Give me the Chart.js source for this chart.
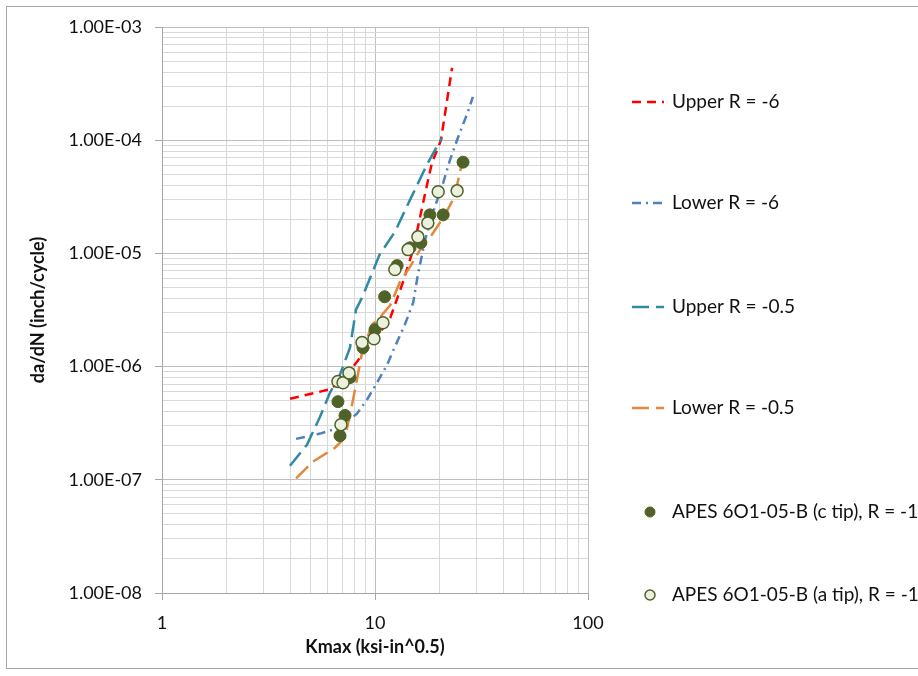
<!DOCTYPE html>
<html lang="en">
<head>
    <meta charset="UTF-8">
    <title>da/dN vs Kmax</title>
    <script src="https://cdn.jsdelivr.net/npm/chart.js@4.4.1/dist/chart.umd.min.js"></script>
    <style>
        html, body { margin: 0; padding: 0; background: #fff; }
        #wrap { position: relative; width: 918px; height: 676px; }
    </style>
</head>
<body>
    <div id="wrap"><canvas id="crack" width="918" height="676"></canvas></div>

    <script>
        // Kmax (ksi-in^0.5) and da/dN (inch/cycle)
        const kmaxUpperR6 = [3.99, 6.15, 7.23, 8.51, 10.0, 11.8, 13.5, 15.1, 17.2, 18.5, 20.4, 23.0];
        const rateUpperR6 = [5.2e-7, 6.3e-7, 8.0e-7, 1.2e-6, 1.73e-6, 2.7e-6, 5.5e-6, 1.08e-5, 3.4e-5, 6.3e-5, 1.0e-4, 4.35e-4];

        const kmaxLowerR6 = [4.26, 5.52, 6.85, 8.23, 9.17, 10.3, 11.4, 12.4, 13.8, 15.1, 15.9, 17.2, 19.1, 20.9, 22.5, 24.5, 27.3, 28.8];
        const rateLowerR6 = [2.3e-7, 2.56e-7, 2.9e-7, 3.84e-7, 5.1e-7, 7.4e-7, 1.04e-6, 1.5e-6, 2.34e-6, 3.66e-6, 6.5e-6, 1.32e-5, 2.58e-5, 4.2e-5, 6.7e-5, 1.05e-4, 1.78e-4, 2.41e-4];

        const kmaxUpperR05 = [3.99, 4.80, 5.52, 6.15, 6.85, 7.63, 8.15, 8.69, 10.5, 12.4, 14.6, 17.7, 20.6];
        const rateUpperR05 = [1.33e-7, 2.05e-7, 3.6e-7, 5.9e-7, 8.5e-7, 1.47e-6, 3.2e-6, 4.06e-6, 9.7e-6, 1.55e-5, 2.97e-5, 6.3e-5, 1.05e-4];

        const kmaxLowerR05 = [4.26, 5.12, 6.49, 7.23, 7.80, 8.23, 8.69, 9.68, 10.5, 11.8, 13.1, 14.6, 16.3, 18.5, 21.3, 23.2, 24.5, 25.6];
        const rateLowerR05 = [1.03e-7, 1.45e-7, 1.92e-7, 2.36e-7, 4.6e-7, 7.7e-7, 1.33e-6, 2.34e-6, 2.7e-6, 3.5e-6, 5.6e-6, 7.6e-6, 1.08e-5, 1.46e-5, 2.19e-5, 2.97e-5, 4.3e-5, 6.3e-5];

        const kmaxCTip = [6.85, 7.23, 6.70, 7.63, 8.78, 10.0, 11.1, 12.7, 14.6, 16.4, 18.1, 20.9, 25.9];
        const rateCTip = [2.45e-7, 3.7e-7, 4.9e-7, 8.0e-7, 1.47e-6, 2.12e-6, 4.14e-6, 7.8e-6, 1.12e-5, 1.24e-5, 2.19e-5, 2.19e-5, 6.4e-5];

        const kmaxATip = [6.92, 6.70, 7.08, 7.55, 8.69, 9.89, 10.9, 12.4, 14.3, 15.9, 17.7, 19.8, 24.3];
        const rateATip = [3.07e-7, 7.4e-7, 7.2e-7, 8.8e-7, 1.63e-6, 1.76e-6, 2.44e-6, 7.2e-6, 1.08e-5, 1.4e-5, 1.86e-5, 3.5e-5, 3.57e-5];

        const xDecades = [0, 1];          // 1..100
        const yDecades = [-8, -7, -6, -5, -4];  // 1e-8..1e-3

        const FONT = 'Lato, "Liberation Sans", sans-serif';
        const legendRows = [102, 203, 307, 408, 512, 595];

        function zip(xs, ys) {
            return xs.map((x, i) => ({x: x, y: ys[i]}));
        }

        function logTicks(decades) {
            let out = [];
            decades.forEach(e => {
                for (let d = 1; d <= 9; d++) out.push({value: d * Math.pow(10, e)});
            });
            out.push({value: Math.pow(10, decades[decades.length - 1] + 1)});
            return out;
        }

        function isDecade(v) {
            let l = Math.log10(v);
            return Math.abs(l - Math.round(l)) < 1e-6;
        }

        function lineSet(label, xs, ys, color, dash, order) {
            return {
                label: label, data: zip(xs, ys), showLine: true,
                borderColor: color, backgroundColor: color, borderWidth: 2.5,
                borderDash: dash, pointRadius: 0, pointHoverRadius: 0, order: order
            };
        }

        const datasets = [
            lineSet('Upper R = -6', kmaxUpperR6, rateUpperR6, '#FF0000', [9, 6], 5),
            lineSet('Lower R = -6', kmaxLowerR6, rateLowerR6, '#4F81BD', [9, 5, 2, 5], 4),
            lineSet('Upper R = -0.5', kmaxUpperR05, rateUpperR05, '#2E8AA5', [17, 7], 3),
            lineSet('Lower R = -0.5', kmaxLowerR05, rateLowerR05, '#E3883A', [17, 7], 2),
            {
                label: 'APES 6O1-05-B (c tip), R = -1', data: zip(kmaxCTip, rateCTip),
                backgroundColor: '#4F6228', borderColor: '#4F6228', borderWidth: 1,
                pointRadius: 6, order: 1
            },
            {
                label: 'APES 6O1-05-B (a tip), R = -1', data: zip(kmaxATip, rateATip),
                backgroundColor: '#EBF1DE', borderColor: '#4F6228', borderWidth: 1.5,
                pointRadius: 6, order: 0
            }
        ];

        const sideLegend = {
            id: 'sideLegend',
            beforeDraw(chart) {
                const ctx = chart.ctx;
                ctx.save();
                ctx.strokeStyle = '#A6A6A6';
                ctx.lineWidth = 1;
                ctx.strokeRect(6.5, 6.5, 1000, 662);
                ctx.restore();
            },
            afterDraw(chart) {
                const ctx = chart.ctx;
                ctx.save();
                chart.data.datasets.forEach((ds, i) => {
                    const y = legendRows[i];
                    if (ds.showLine) {
                        ctx.strokeStyle = ds.borderColor;
                        ctx.lineWidth = ds.borderWidth;
                        ctx.setLineDash(ds.borderDash);
                        ctx.beginPath();
                        ctx.moveTo(632, y);
                        ctx.lineTo(664, y);
                        ctx.stroke();
                    } else {
                        ctx.setLineDash([]);
                        ctx.beginPath();
                        ctx.arc(650, y, 5, 0, Math.PI * 2);
                        ctx.fillStyle = ds.backgroundColor;
                        ctx.fill();
                        ctx.strokeStyle = ds.borderColor;
                        ctx.lineWidth = ds.borderWidth;
                        ctx.stroke();
                    }
                    ctx.fillStyle = '#111';
                    ctx.font = '19px ' + FONT;
                    ctx.textBaseline = 'middle';
                    ctx.textAlign = 'left';
                    ctx.fillText(ds.label, 672, y);
                });
                ctx.restore();
            }
        };

        function gridColor(c) {
            return c.tick && isDecade(c.tick.value) ? '#BFBFBF' : '#D9D9D9';
        }
        function tickColor(c) {
            return c.tick && isDecade(c.tick.value) ? '#A6A6A6' : 'rgba(0,0,0,0)';
        }

        new Chart(document.getElementById('crack'), {
            type: 'scatter',
            data: {datasets: datasets},
            plugins: [sideLegend],
            options: {
                responsive: false,
                animation: false,
                layout: {padding: {left: 6, top: 27, right: 330, bottom: 0}},
                plugins: {legend: {display: false}, tooltip: {enabled: false}},
                scales: {
                    x: {
                        type: 'logarithmic', min: 1, max: 100,
                        afterBuildTicks: s => { s.ticks = logTicks(xDecades); },
                        afterFit: s => { s.height = 83; },
                        border: {color: '#A6A6A6', width: 1},
                        grid: {color: gridColor, tickColor: tickColor, tickLength: 7, lineWidth: 1},
                        ticks: {
                            autoSkip: false, maxRotation: 0, padding: 12, color: '#111',
                            font: {family: FONT, size: 18},
                            callback: v => isDecade(v) ? String(Math.round(v)) : ''
                        },
                        title: {
                            display: true, text: 'Kmax (ksi-in^0.5)', color: '#111',
                            font: {family: FONT, size: 18, weight: 'bold'},
                            padding: {top: 0, bottom: 18}
                        }
                    },
                    y: {
                        type: 'logarithmic', min: 1e-8, max: 1e-3,
                        afterBuildTicks: s => { s.ticks = logTicks(yDecades); },
                        afterFit: s => { s.width = 156; },
                        border: {color: '#A6A6A6', width: 1},
                        grid: {color: gridColor, tickColor: tickColor, tickLength: 7, lineWidth: 1},
                        ticks: {
                            autoSkip: false, padding: 13, color: '#111',
                            font: {family: FONT, size: 18},
                            callback: v => {
                                if (!isDecade(v)) return '';
                                const e = -Math.round(Math.log10(v));
                                return '1.00E-' + String(e).padStart(2, '0');
                            }
                        },
                        title: {
                            display: true, text: 'da/dN (inch/cycle)', color: '#111',
                            font: {family: FONT, size: 18, weight: 'bold'},
                            padding: {top: 21, bottom: 0}
                        }
                    }
                }
            }
        });
    </script>
</body>
</html>
